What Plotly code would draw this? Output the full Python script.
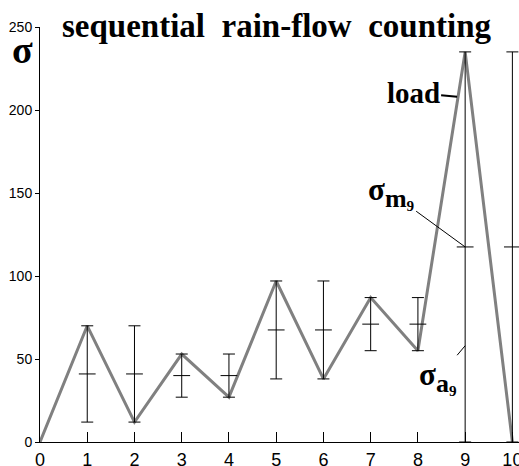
import plotly.graph_objects as go

# ---- data ----
steps = [0, 1, 2, 3, 4, 5, 6, 7, 8, 9, 10]
load = [0, 70, 12, 53, 27, 97, 38, 87, 55, 235, 0]

cycle_x = [1, 2, 3, 4, 5, 6, 7, 8, 9, 10]
cycle_min = [12, 12, 27, 27, 38, 38, 55, 55, 0, 0]
cycle_max = [70, 70, 53, 53, 97, 97, 87, 87, 235, 235]

x_ticks = [0, 1, 2, 3, 4, 5, 6, 7, 8, 9, 10]
y_ticks = [0, 50, 100, 150, 200, 250]

title_text = "sequential  rain-flow  counting"

cycle_mean = [(a + b) / 2 for a, b in zip(cycle_min, cycle_max)]
err_plus = [b - m for b, m in zip(cycle_max, cycle_mean)]
err_minus = [m - a for a, m in zip(cycle_min, cycle_mean)]

W, H = 519, 466
ML, MR, MT, MB = 40, 0, 27, 24
X_RANGE = [0, 10.14]

fig = go.Figure()

fig.add_trace(go.Scatter(
    x=steps, y=load, mode="lines",
    line=dict(color="#808080", width=3),
    cliponaxis=False, showlegend=False, hoverinfo="skip"))

fig.add_trace(go.Scatter(
    x=cycle_x, y=cycle_mean, mode="markers",
    marker=dict(symbol="line-ew", size=12, color="black",
                line=dict(color="black", width=1)),
    error_y=dict(type="data", symmetric=False, array=err_plus,
                 arrayminus=err_minus, color="black", thickness=1, width=6),
    cliponaxis=False, showlegend=False, hoverinfo="skip"))

serif = "Liberation Serif"
sub_m = "<b>σ<sub><span style='font-size:26px'>m</span><sub>9</sub></sub></b>"
sub_a = "<b>σ<sub><span style='font-size:26px'>a</span><sub>9</sub></sub></b>"

annotations = [
    # y-axis symbol
    dict(text="<b>σ</b>", xref="paper", yref="paper",
         x=(22 - ML) / (W - ML - MR), y=1 - (50 - MT) / (H - MT - MB),
         xanchor="center", yanchor="middle", showarrow=False,
         font=dict(family=serif, size=38, color="black")),
    # load label
    dict(text="<b>load</b>", x=8.83, y=208, xref="x", yref="y",
         showarrow=True, arrowhead=0, arrowwidth=2, arrowcolor="black",
         ax=-44, ay=-4, axref="pixel", ayref="pixel",
         font=dict(family=serif, size=29, color="black")),
    # sigma m9
    dict(text=sub_m, x=9, y=cycle_mean[8],
         xref="x", yref="y",
         showarrow=True, arrowhead=0, arrowwidth=1, arrowcolor="black",
         ax=-74, ay=-54, axref="pixel", ayref="pixel",
         font=dict(family=serif, size=31, color="black")),
    # sigma a9
    dict(text=sub_a, x=9, y=58,
         xref="x", yref="y",
         showarrow=True, arrowhead=0, arrowwidth=1, arrowcolor="black",
         ax=-27, ay=32, axref="pixel", ayref="pixel",
         font=dict(family=serif, size=31, color="black")),
]

fig.update_layout(
    width=W, height=H,
    margin=dict(l=ML, r=MR, t=MT, b=MB, pad=0, autoexpand=False),
    paper_bgcolor="white", plot_bgcolor="white",
    title=dict(text="<b>" + title_text + "</b>",
               x=276.5 / W, xref="container", xanchor="center",
               y=1 - 25 / H, yref="container", yanchor="middle",
               font=dict(family=serif, size=33, color="black")),
    annotations=annotations,
    xaxis=dict(range=X_RANGE, tickvals=x_ticks,
               ticktext=[str(v) for v in x_ticks],
               ticks="inside", ticklen=10, tickwidth=1, tickcolor="black",
               showline=True, linecolor="black", linewidth=1,
               showgrid=False, zeroline=False, automargin=False,
               ticklabeloverflow="allow", ticklabelstandoff=1,
               tickfont=dict(family="Liberation Sans", size=18, color="black")),
    xaxis2=dict(range=X_RANGE, tickvals=x_ticks, overlaying="x",
                anchor="y", side="bottom",
                ticks="outside", ticklen=6, tickwidth=1, tickcolor="black",
                showline=False, showgrid=False, zeroline=False,
                showticklabels=False, automargin=False),
    yaxis=dict(range=[0, 250], tickvals=y_ticks,
               ticks="outside", ticklen=4, tickwidth=1, tickcolor="black",
               showline=True, linecolor="black", linewidth=1,
               showgrid=False, zeroline=False, automargin=False,
               tickfont=dict(family="Liberation Sans", size=14, color="black")),
)

fig.write_html(
    "out.html",
    config={"displayModeBar": False},
    post_script="document.body.style.margin='0';document.body.style.overflow='hidden';",
)
